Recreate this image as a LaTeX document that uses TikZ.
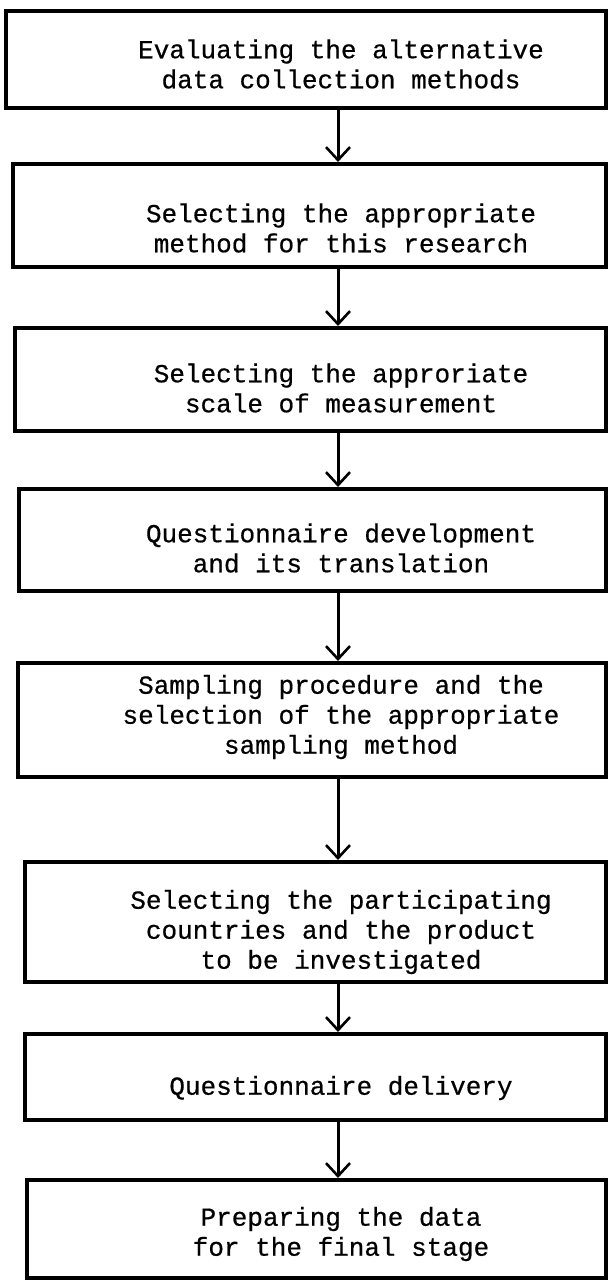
\documentclass[tikz,border=0pt]{standalone}
\usepackage{fontspec}
\newfontfamily\typewriter[FakeBold=0.6]{Liberation Mono}
\usetikzlibrary{arrows.meta}
\begin{document}
\begin{tikzpicture}[x=1pt,y=-1pt,
  stagebox/.style={draw, line width=4pt, inner sep=0pt, rectangle},
  stagetext/.style={align=center, inner sep=0pt, font=\typewriter\fontsize{26}{30}\selectfont},
  flow/.style={line width=3pt, -{Straight Barb[length=13pt,width=24pt,line width=2.6pt]}}
]
\useasboundingbox (0,0) rectangle (608,1282);
% stage frame (left edge, top, bottom) and its text (vertical centre)
\newcommand\stage[7]{%
  \node[stagebox, minimum width={606-#2}, minimum height={#4-#3}] (#1) at ({(606+#2)/2},{(#3+#4)/2}) {};
  \node[stagetext] (#5) at (341,#6) {#7};
}
\stage{b1}{6}{11}{108}{t1}{64}{Evaluating the alternative\\data collection methods}
\stage{b2}{13}{164}{267}{t2}{228}{Selecting the appropriate\\method for this research}
\stage{b3}{15}{328}{431}{t3}{388}{Selecting the approriate\\scale of measurement}
\stage{b4}{19}{489}{591}{t4}{548}{Questionnaire development\\and its translation}
\stage{b5}{18}{663}{777}{t5}{717}{Sampling procedure and the\\selection of the appropriate\\sampling method}
\stage{b6}{25}{862}{982}{t6}{932}{Selecting the participating\\countries and the product\\to be investigated}
\stage{b7}{25}{1034}{1120}{t7}{1088}{Questionnaire delivery}
\stage{b8}{27}{1180}{1278}{t8}{1234}{Preparing the data\\for the final stage}
% connectors
\coordinate (ax) at (338,0);
\draw[flow] (b1.south -| ax) -- (b2.north -| ax);
\draw[flow] (b2.south -| ax) -- (b3.north -| ax);
\draw[flow] (b3.south -| ax) -- (b4.north -| ax);
\draw[flow] (b4.south -| ax) -- (b5.north -| ax);
\draw[flow] (b5.south -| ax) -- (b6.north -| ax);
\draw[flow] (b6.south -| ax) -- (b7.north -| ax);
\draw[flow] (b7.south -| ax) -- (b8.north -| ax);
\end{tikzpicture}
\end{document}
